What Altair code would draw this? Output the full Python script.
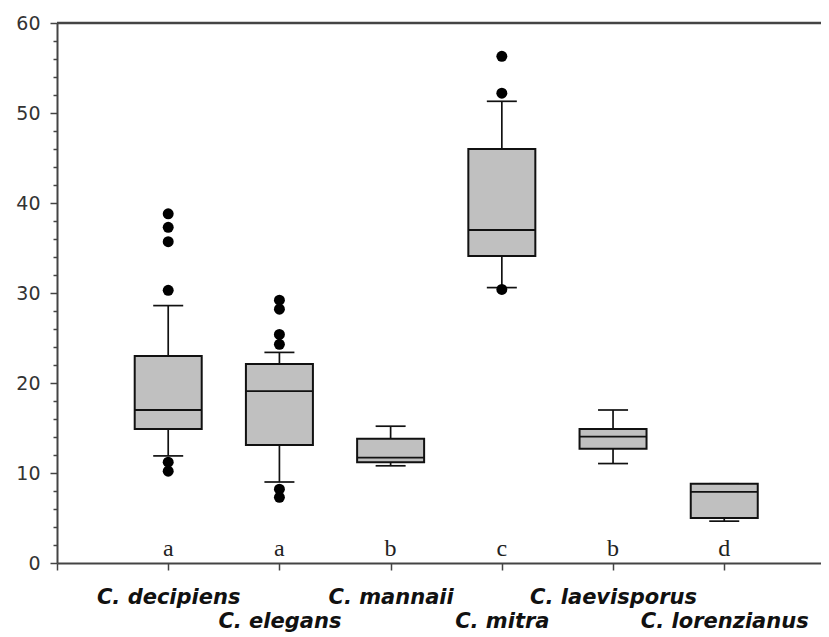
import altair as alt
import pandas as pd

species = ["C. decipiens", "C. elegans", "C. mannaii", "C. mitra", "C. laevisporus", "C. lorenzianus"]
letters = ["a", "a", "b", "c", "b", "d"]
lower_whisker = [11.9, 9.0, 10.8, 30.6, 11.05, 4.65]
q1 = [14.9, 13.1, 11.2, 34.1, 12.7, 5.0]
median = [17.0, 19.1, 11.7, 37.0, 14.05, 7.9]
q3 = [23.0, 22.1, 13.8, 46.0, 14.9, 8.8]
upper_whisker = [28.6, 23.4, 15.2, 51.3, 17.0, 8.8]

outlier_species = ["C. decipiens"] * 6 + ["C. elegans"] * 6 + ["C. mitra"] * 3
outlier_values = [10.2, 11.2, 30.3, 35.7, 37.3, 38.8,
                  7.3, 8.2, 24.3, 25.4, 28.2, 29.2,
                  30.4, 52.2, 56.3]

y_major_ticks = list(range(0, 61, 10))
y_minor_ticks = [v for v in range(0, 61, 2) if v % 10 != 0]

positions = list(range(1, len(species) + 1))
box_df = pd.DataFrame({
    "pos": positions, "species": species, "letter": letters,
    "lw": lower_whisker, "q1": q1, "med": median, "q3": q3, "uw": upper_whisker,
})
out_df = pd.DataFrame({
    "pos": [species.index(s) + 1 for s in outlier_species],
    "value": outlier_values,
})

label_array = "[" + ",".join("'" + s + "'" for s in [""] + species) + "]"

x_axis = alt.Axis(
    values=[0] + positions,
    labelExpr=label_array + "[datum.value]",
    labelFont="DejaVu Sans", labelFontSize=21, labelFontStyle="italic",
    labelFontWeight="bold", labelColor="#111",
    labelPadding={"condition": {"test": "datum.value % 2 === 0", "value": 40}, "value": 16},
    labelOverlap=False, labelBound=False, labelFlush=False, labelAngle=0,
    tickSize=7, tickColor="#444", tickWidth=1.5,
    domainColor="#444", domainWidth=2, grid=False, title=None,
)
y_axis = alt.Axis(
    values=y_major_ticks, orient="left",
    labelFont="DejaVu Sans", labelFontSize=19, labelColor="#333",
    labelPadding=10, labelOverlap=False, labelBound=False, labelFlush=False,
    tickSize=7, tickColor="#444", tickWidth=1.5,
    domainColor="#444", domainWidth=2, grid=False, title=None,
)
y_minor_axis = alt.Axis(
    values=y_minor_ticks, orient="left", labels=False, domain=False,
    tickSize=4, tickColor="#444", tickWidth=1.5, grid=False, title=None,
)

x_scale = alt.Scale(domain=[0, 6.87], nice=False, zero=False, padding=0)
y_scale = alt.Scale(domain=[0, 60], nice=False, zero=False, padding=0)

def X():
    return alt.X("pos:Q", scale=x_scale, axis=x_axis)

def Y(field):
    return alt.Y(field, type="quantitative", scale=y_scale, axis=y_axis)

base = alt.Chart(box_df)

whisk_lo = base.mark_rule(color="#111", strokeWidth=1.7).encode(x=X(), y=Y("lw"), y2="q1")
whisk_hi = base.mark_rule(color="#111", strokeWidth=1.7).encode(x=X(), y=Y("q3"), y2="uw")
cap_lo = base.mark_tick(orient="horizontal", size=30, thickness=1.7, color="#111", opacity=1).encode(x=X(), y=Y("lw"))
cap_hi = base.mark_tick(orient="horizontal", size=30, thickness=1.7, color="#111", opacity=1).encode(x=X(), y=Y("uw"))
box = base.mark_bar(size=67, fill="#c0c0c0", stroke="#111", strokeWidth=2).encode(x=X(), y=Y("q1"), y2="q3")
med = base.mark_tick(orient="horizontal", size=67, thickness=1.8, color="#111", opacity=1).encode(x=X(), y=Y("med"))
outs = alt.Chart(out_df).mark_circle(size=120, color="black", opacity=1).encode(x=X(), y=Y("value"))
txt = base.mark_text(font="Liberation Serif", fontSize=24, baseline="alphabetic", color="#222").encode(
    x=X(), y=alt.datum(0.8), text="letter:N")

main = alt.layer(whisk_lo, whisk_hi, cap_lo, cap_hi, box, med, outs, txt)

top = alt.Chart(pd.DataFrame({"v": [60]})).mark_rule(color="#444", strokeWidth=2.5).encode(
    y=alt.Y("v:Q", scale=y_scale, axis=y_minor_axis))

chart = alt.layer(main, top).resolve_scale(y="independent").properties(
    width=764, height=540,
    autosize=alt.AutoSizeParams(type="none"),
    padding={"left": 49, "top": 15, "right": 0, "bottom": 74},
    background="white",
).configure_view(stroke=None)

chart.save("out.html", embed_options={"renderer": "svg", "actions": False})
